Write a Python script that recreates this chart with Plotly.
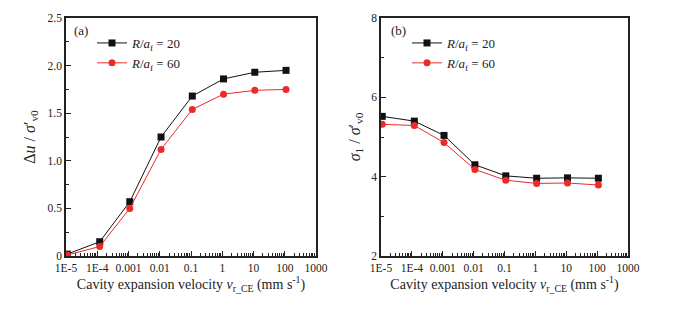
import plotly.graph_objects as go

# Data
velocity = [1.1e-5, 1.2e-4, 1.1e-3, 1.1e-2, 0.11, 1.1, 11, 110]
du_R20 = [0.02, 0.15, 0.57, 1.25, 1.68, 1.86, 1.93, 1.95]
du_R60 = [0.01, 0.10, 0.50, 1.12, 1.54, 1.70, 1.74, 1.75]
s1_R20 = [5.52, 5.40, 5.04, 4.30, 4.02, 3.96, 3.97, 3.96]
s1_R60 = [5.32, 5.29, 4.86, 4.18, 3.91, 3.83, 3.84, 3.79]

x_tickvals = [1e-5, 1e-4, 1e-3, 1e-2, 0.1, 1, 10, 100, 1000]
x_ticktext = ["1E-5", "1E-4", "0.001", "0.01", "0.1", "1", "10", "100", "1000"]
x_minorvals = [d * m for d in x_tickvals[:-1] for m in range(2, 10)]
ya_tickvals = [0, 0.5, 1.0, 1.5, 2.0, 2.5]
ya_ticktext = ["0", "0.5", "1.0", "1.5", "2.0", "2.5"]
yb_tickvals = [2, 4, 6, 8]
yb_ticktext = ["2", "4", "6", "8"]

name20 = "<i>R</i>/<i>a</i><sub>f</sub> = 20"
name60 = "<i>R</i>/<i>a</i><sub>f</sub> = 60"

BLACK = "#111111"
RED = "#ec2a2a"
FONT = "Liberation Serif"

fig = go.Figure()

def add(x, y, name, color, symbol, xa, ya, legend):
    fig.add_trace(go.Scatter(
        x=x, y=y, name=name, mode="lines+markers",
        line=dict(color=color, width=1),
        marker=dict(color=color, symbol=symbol, size=7),
        xaxis=xa, yaxis=ya, legend=legend))

add(velocity, du_R20, name20, BLACK, "square", "x", "y", "legend")
add(velocity, du_R60, name60, RED, "circle", "x", "y", "legend")
add(velocity, s1_R20, name20, BLACK, "square", "x2", "y2", "legend2")
add(velocity, s1_R60, name60, RED, "circle", "x2", "y2", "legend2")

axis_common = dict(
    showline=True, linecolor="#222222", linewidth=1.5, mirror=True,
    ticks="inside", ticklen=5, tickwidth=1.2, tickcolor="#222222",
    showgrid=False, zeroline=False, automargin=False,
    tickfont=dict(family=FONT, size=11.5, color="#222222"),
)
xtitle = "Cavity expansion velocity <i>v</i><sub>r_CE</sub> (mm s<sup>-1</sup>)"

W, H = 674, 310
ydom = [(H - 256) / H, (H - 18) / H]

fig.update_layout(
    width=W, height=H,
    margin=dict(l=0, r=0, t=0, b=0),
    paper_bgcolor="white", plot_bgcolor="white",
    font=dict(family=FONT, size=13, color="#222222"),
    xaxis=dict(axis_common, type="log", domain=[66 / W, 316 / W], range=[-5, 3],
               tickvals=x_tickvals, ticktext=x_ticktext, anchor="y",
               minor=dict(ticks="inside", ticklen=3, tickcolor="#222222", showgrid=False,
                          tickmode="array", tickvals=x_minorvals),
               title=dict(text=xtitle, font=dict(family=FONT, size=14), standoff=7)),
    yaxis=dict(axis_common, domain=ydom, range=[0, 2.5], anchor="x",
               tickvals=ya_tickvals, ticktext=ya_ticktext, ticklabelstandoff=0,
               minor=dict(ticks="inside", ticklen=3, dtick=0.25, tickcolor="#222222", showgrid=False),
               title=dict(text="Δ<i>u</i> / <i>σ</i>′<sub>v0</sub>", font=dict(family=FONT, size=16), standoff=8)),
    xaxis2=dict(axis_common, type="log", domain=[381 / W, 628 / W], range=[-5, 3],
                tickvals=x_tickvals, ticktext=x_ticktext, anchor="y2",
                minor=dict(ticks="inside", ticklen=3, tickcolor="#222222", showgrid=False,
                           tickmode="array", tickvals=x_minorvals),
                title=dict(text=xtitle, font=dict(family=FONT, size=14), standoff=7)),
    yaxis2=dict(axis_common, domain=ydom, range=[2, 8], anchor="x2",
                tickvals=yb_tickvals, ticktext=yb_ticktext, ticklabelstandoff=0,
                minor=dict(ticks="inside", ticklen=3, dtick=1, tickcolor="#222222", showgrid=False),
                title=dict(text="<i>σ</i><sub>1</sub> / <i>σ</i>′<sub>v0</sub>", font=dict(family=FONT, size=16), standoff=7)),
    legend=dict(x=92 / W, y=(H - 28) / H, xanchor="left", yanchor="top",
                bgcolor="rgba(0,0,0,0)", font=dict(family=FONT, size=13),
                tracegroupgap=0),
    legend2=dict(x=407 / W, y=(H - 28) / H, xanchor="left", yanchor="top",
                 bgcolor="rgba(0,0,0,0)", font=dict(family=FONT, size=13),
                 tracegroupgap=0),
    showlegend=True,
)

fig.add_annotation(text="(a)", x=72 / W, y=(H - 30) / H, xref="paper", yref="paper",
                   xanchor="left", yanchor="middle", showarrow=False,
                   font=dict(family=FONT, size=13, color="#222222"))
fig.add_annotation(text="(b)", x=389 / W, y=(H - 30) / H, xref="paper", yref="paper",
                   xanchor="left", yanchor="middle", showarrow=False,
                   font=dict(family=FONT, size=13, color="#222222"))

fig.write_html("out.html", config={"displayModeBar": False},
               post_script="document.body.style.margin='0';")
